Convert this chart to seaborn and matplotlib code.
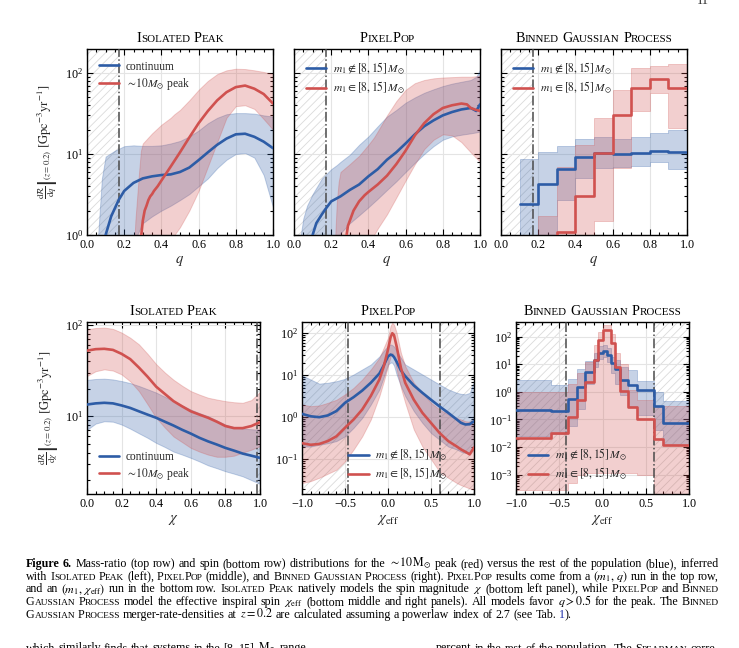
import re
import numpy as np
import matplotlib
matplotlib.use("Agg")
import matplotlib.pyplot as plt
import matplotlib.transforms as mtrans
from matplotlib.ticker import MultipleLocator, LogLocator, NullFormatter, FuncFormatter
import seaborn as sns

# ======================= DATA =======================
# --- Top-left: Isolated Peak, q ---
ipq_blue_x = [0.10, 0.13, 0.17, 0.20, 0.25, 0.30, 0.35, 0.40, 0.45, 0.50, 0.55, 0.60, 0.65, 0.70, 0.75, 0.80, 0.85, 0.90, 0.95, 1.00]
ipq_blue_med = [1.0, 1.7, 2.7, 3.5, 4.4, 5.0, 5.3, 5.5, 5.6, 6.0, 6.8, 8.4, 10.5, 13.0, 15.5, 17.5, 17.8, 16.3, 14.2, 11.8]
ipq_blue_bx = [0.05, 0.06, 0.08, 0.10, 0.15, 0.20, 0.25, 0.27, 0.30, 0.35, 0.40, 0.45, 0.50, 0.55, 0.60, 0.65, 0.70, 0.75, 0.80, 0.85, 0.90, 0.95, 1.00]
ipq_blue_hi = [0.5, 1.0, 5.0, 9.3, 11.0, 12.5, 12.8, 12.7, 12.6, 12.6, 12.8, 13.5, 14.5, 16.5, 19.5, 24.0, 28.0, 31.0, 32.0, 32.0, 31.5, 30.0, 29.0]
ipq_blue_lo = [0.3, 0.3, 0.3, 0.3, 0.3, 0.3, 0.3, 1.0, 1.4, 1.7, 2.0, 2.3, 2.7, 3.2, 4.0, 5.0, 6.7, 8.5, 10.0, 10.3, 9.0, 5.5, 2.2]
ipq_red_x = [0.29, 0.30, 0.31, 0.32, 0.33, 0.34, 0.35, 0.36, 0.38, 0.40, 0.45, 0.50, 0.55, 0.60, 0.65, 0.70, 0.75, 0.80, 0.85, 0.90, 0.95, 1.00]
ipq_red_med = [0.9, 1.5, 2.0, 2.3, 2.7, 3.0, 3.2, 3.5, 4.0, 4.7, 7.0, 10.5, 16.0, 24.0, 34.0, 46.0, 58.0, 67.0, 70.0, 64.0, 55.0, 42.0]
ipq_red_bx = [0.25, 0.26, 0.27, 0.28, 0.29, 0.30, 0.35, 0.40, 0.45, 0.47, 0.50, 0.55, 0.60, 0.65, 0.70, 0.75, 0.80, 0.85, 0.90, 0.95, 1.00]
ipq_red_hi = [0.5, 1.5, 3.0, 6.0, 11.0, 13.5, 18.0, 23.0, 28.0, 31.0, 35.0, 46.0, 62.0, 80.0, 97.0, 108.0, 113.0, 112.0, 108.0, 103.0, 97.0]
ipq_red_lo = [0.3, 0.3, 0.3, 0.3, 0.3, 0.3, 0.3, 0.3, 0.3, 1.0, 1.25, 2.0, 3.5, 7.0, 14.0, 28.0, 39.0, 40.0, 36.0, 27.0, 20.0]

# --- Top-middle: PixelPop, q ---
ppq_blue_x = [0.10, 0.12, 0.15, 0.17, 0.20, 0.25, 0.30, 0.35, 0.40, 0.45, 0.50, 0.55, 0.60, 0.65, 0.70, 0.75, 0.80, 0.85, 0.90, 0.95, 0.98, 1.00]
ppq_blue_med = [1.0, 1.4, 1.8, 2.1, 2.6, 3.0, 3.6, 4.2, 5.3, 6.5, 8.5, 10.5, 13.5, 17.5, 22.0, 26.0, 30.0, 33.0, 35.5, 37.0, 34.0, 41.0]
ppq_red_x = [0.28, 0.29, 0.30, 0.32, 0.35, 0.38, 0.40, 0.45, 0.50, 0.55, 0.60, 0.65, 0.70, 0.75, 0.80, 0.85, 0.90, 0.93, 0.95, 0.98, 1.00]
ppq_red_med = [0.9, 1.3, 1.5, 2.0, 2.6, 3.1, 3.4, 4.2, 5.4, 7.5, 11.0, 17.0, 24.0, 31.0, 37.0, 40.0, 42.0, 41.0, 37.0, 35.0, 34.0]
ppq_blue_bx = [0.03, 0.05, 0.07, 0.10, 0.15, 0.20, 0.23, 0.25, 0.30, 0.35, 0.40, 0.45, 0.50, 0.55, 0.60, 0.65, 0.70, 0.75, 0.80, 0.85, 0.90, 0.95, 0.98, 1.00]
ppq_blue_hi = [0.8, 1.6, 2.3, 3.2, 5.0, 6.5, 7.3, 8.0, 9.8, 13.0, 16.5, 22.0, 29.0, 35.0, 43.0, 50.0, 57.0, 63.0, 69.0, 74.0, 78.0, 82.0, 90.0, 110.0]
ppq_blue_lo = [0.3, 0.3, 0.3, 0.3, 0.3, 0.3, 0.9, 1.05, 1.4, 1.75, 2.2, 2.8, 3.6, 4.6, 6.0, 7.8, 10.0, 12.5, 15.0, 16.5, 17.3, 18.0, 18.5, 19.0]
ppq_red_bx = [0.22, 0.23, 0.24, 0.25, 0.30, 0.35, 0.40, 0.43, 0.45, 0.50, 0.55, 0.60, 0.65, 0.70, 0.75, 0.80, 0.85, 0.90, 0.95, 1.00]
ppq_red_hi = [0.8, 2.5, 4.5, 6.0, 7.5, 9.5, 13.0, 16.0, 19.0, 30.0, 45.0, 62.0, 75.0, 82.0, 86.0, 88.0, 89.0, 90.0, 90.0, 92.0]
ppq_red_lo = [0.3, 0.3, 0.3, 0.3, 0.3, 0.3, 0.3, 1.0, 1.2, 1.8, 2.9, 4.7, 7.5, 11.5, 15.0, 17.5, 17.0, 14.0, 10.5, 8.0]

# --- Top-right: Binned Gaussian Process, q (bins) ---
bgq_blue_edges = [0.1, 0.2, 0.3, 0.4, 0.5, 0.6, 0.7, 0.8, 0.9, 1.0]
bgq_blue_med = [2.44, 4.3, 6.6, 9.3, 10.2, 10.1, 10.2, 10.8, 10.6]
bgq_blue_hi = [8.6, 10.7, 12.4, 15.3, 16.0, 15.5, 16.2, 18.1, 19.9]
bgq_blue_lo = [0.3, 0.9, 2.7, 5.0, 6.7, 7.0, 7.2, 7.9, 6.5]
bgq_red_edges = [0.2, 0.3, 0.4, 0.5, 0.6, 0.7, 0.8, 0.9, 1.0]
bgq_red_med = [0.6, 1.1, 3.07, 10.2, 30.5, 65.0, 85.0, 66.0]
bgq_red_hi = [1.7, 7.0, 13.0, 27.7, 62.0, 115.0, 122.0, 130.0]
bgq_red_lo = [0.3, 0.3, 0.3, 1.5, 6.7, 34.0, 57.0, 21.0]

# --- Bottom-left: Isolated Peak, chi ---
ipc_x = [0.0, 0.05, 0.1, 0.15, 0.2, 0.25, 0.3, 0.35, 0.4, 0.45, 0.5, 0.55, 0.6, 0.65, 0.7, 0.75, 0.8, 0.85, 0.9, 0.95, 1.0]
ipc_red_med = [52, 54, 54.5, 53, 48, 42, 34, 27, 21, 17.5, 14.6, 12.8, 11.3, 10.4, 9.6, 8.7, 7.8, 7.4, 7.4, 7.8, 8.6]
ipc_red_hi = [89, 92, 93, 90, 82, 72, 61, 48, 37, 30, 25, 21.5, 18.8, 17.2, 15.9, 15.2, 14.6, 14.2, 14.0, 15.0, 18.4]
ipc_red_lo = [27.5, 31, 32.5, 31.5, 28.6, 24, 18.8, 13.5, 9.6, 7.5, 6.0, 5.2, 4.5, 4.1, 3.8, 3.6, 3.6, 3.7, 4.0, 4.3, 4.7]
ipc_blue_med = [13.4, 13.8, 14.0, 13.8, 13.1, 12.3, 11.3, 10.4, 9.6, 8.7, 7.9, 7.1, 6.45, 5.8, 5.3, 4.9, 4.5, 4.2, 3.9, 3.7, 3.5]
ipc_blue_hi = [24.9, 25.5, 25.7, 25.2, 24.2, 23.0, 21.4, 19.7, 18.1, 16.3, 14.6, 13.1, 11.8, 10.8, 10.0, 9.0, 8.1, 7.6, 7.3, 7.2, 7.1]
ipc_blue_lo = [7.1, 8.3, 8.8, 8.7, 8.1, 7.3, 6.5, 5.8, 5.1, 4.6, 4.1, 3.8, 3.5, 3.2, 2.9, 2.7, 2.5, 2.35, 2.2, 2.0, 1.82]

# --- Bottom-middle: PixelPop, chi_eff ---
ppc_x = [-1.0, -0.9, -0.8, -0.7, -0.6, -0.5, -0.4, -0.3, -0.2, -0.1, -0.05, 0.0, 0.03, 0.05, 0.07, 0.1, 0.15, 0.2, 0.3, 0.4, 0.5, 0.6, 0.7, 0.8, 0.85, 0.9, 0.95, 1.0]
ppc_blue_med = [1.2, 1.05, 1.0, 1.1, 1.4, 2.2, 3.0, 4.3, 6.6, 11, 17, 28, 31, 30, 27, 21, 13, 9.5, 5.7, 3.8, 2.6, 1.8, 1.27, 0.88, 0.73, 0.67, 0.68, 0.8]
ppc_blue_hi = [9.9, 7.9, 6.3, 6.6, 7.2, 8.2, 10.4, 13.7, 18, 28, 38, 50, 54, 52, 48, 38, 26, 18, 13.7, 10.4, 7.9, 6.0, 4.6, 3.8, 3.6, 3.5, 3.8, 7.0]
ppc_blue_lo = [0.2, 0.2, 0.22, 0.24, 0.27, 0.35, 0.56, 0.96, 2.0, 4.6, 9, 18, 20, 19.8, 17, 10.4, 5.5, 3.2, 1.4, 0.73, 0.42, 0.29, 0.2, 0.17, 0.15, 0.14, 0.15, 0.17]
ppc_red_med = [0.24, 0.22, 0.23, 0.27, 0.35, 0.56, 0.88, 1.52, 3.2, 7.9, 16, 41, 80, 100, 90, 49, 15, 6.6, 2.6, 1.27, 0.73, 0.42, 0.27, 0.2, 0.17, 0.15, 0.13, 0.19]
ppc_red_hi = [2.0, 1.83, 1.9, 2.2, 2.6, 3.5, 5.0, 7.9, 13.7, 26, 45, 78, 150, 178, 160, 103, 34, 16.5, 6.6, 3.8, 2.2, 1.52, 1.16, 0.96, 0.88, 0.8, 0.78, 0.88]
ppc_red_lo = [0.027, 0.03, 0.036, 0.045, 0.056, 0.089, 0.17, 0.35, 0.88, 3.2, 7, 16.5, 28, 34, 28, 13.7, 5, 2.2, 0.51, 0.2, 0.1, 0.05, 0.036, 0.027, 0.024, 0.022, 0.02, 0.019]

# --- Bottom-right: Binned Gaussian Process, chi_eff (bins) ---
bgc_edges = [-1.0, -0.6, -0.4, -0.3, -0.2, -0.1, -0.05, 0.0, 0.05, 0.1, 0.15, 0.2, 0.3, 0.4, 0.6, 0.7, 1.0]
bgc_blue_med = [0.22, 0.2, 0.55, 1.5, 5.3, 14, 26, 30, 22, 11, 6.5, 2.8, 1.8, 1.2, 0.3, 0.076]
bgc_blue_hi = [2.8, 1.8, 3.0, 7.0, 13, 25, 45, 50, 40, 18, 14, 8, 6, 2.5, 1.0, 0.45]
bgc_blue_lo = [0.025, 0.03, 0.06, 0.25, 2.0, 8, 15, 18, 12, 5, 2, 0.8, 0.3, 0.15, 0.04, 0.012]
bgc_red_med = [0.022, 0.033, 0.12, 0.5, 2.3, 14, 73, 175, 170, 59, 8, 1.1, 0.29, 0.1, 0.02, 0.012]
bgc_red_hi = [1.0, 1.0, 2.0, 5.0, 12, 50, 150, 270, 260, 130, 25, 10, 1.2, 0.5, 0.3, 0.3]
bgc_red_lo = [2.8e-4, 2.8e-4, 5e-4, 1e-3, 1.2e-3, 1.2e-3, 1.2e-3, 1.2e-3, 1.2e-3, 1.2e-3, 1.2e-3, 1.2e-3, 1.2e-3, 1e-3, 2e-4, 1.5e-4]

# --- hatched / excluded-region boundaries ---
q_cut = 0.17
chi_cut = 0.98
pp_chieff_cuts = [-0.47, 0.6]
bgp_chieff_cuts = [-0.42, 0.6]

# --- text ---
titles = ["«Isolated» «Peak»", "«PixelPop»", "«Binned» «Gaussian» «Process»"]
legend_ip = ["continuum", r"$\sim\!10M_{\odot}$ peak"]
legend_m1 = [r"$m_1\notin[8,15]\,M_{\odot}$", r"$m_1\in[8,15]\,M_{\odot}$"]
caption_lines = [
    "⟪Figure⟫ ⟪6.⟫ Mass-ratio (top row) and spin (bottom row) distributions for the $\\sim\\!10\\,\\mathrm{M}_{\\odot}$ peak (red) versus the rest of the population (blue), inferred",
    "with «Isolated» «Peak» (left), «PixelPop» (middle), and «Binned» «Gaussian» «Process» (right). «PixelPop» results come from a $(m_1,\\,q)$ run in the top row,",
    "and an $(m_1,\\,\\chi_{\\mathrm{eff}})$ run in the bottom row. «Isolated» «Peak» natively models the spin magnitude $\\chi$ (bottom left panel), while «PixelPop» and «Binned»",
    "«Gaussian» «Process» model the effective inspiral spin $\\chi_{\\mathrm{eff}}$ (bottom middle and right panels). All models favor $q>0.5$ for the peak. The «Binned»",
    "«Gaussian» «Process» merger-rate-densities at $z=0.2$ are calculated assuming a powerlaw index of 2.7 (see Tab. ⟦1⟧).",
]
next_par_left = "which similarly finds that systems in the [8, 15] $\\mathrm{M}_{\\odot}$ range"
next_par_right = "percent in the rest of the population. The «Spearman» corre-"
page_number = "11"

# ======================= STYLE =======================
sns.set_theme(style="ticks")
plt.rcParams["font.family"] = ["Liberation Serif", "DejaVu Serif"]
plt.rcParams["mathtext.fontset"] = "stix"
plt.rcParams["axes.unicode_minus"] = True
plt.rcParams["hatch.linewidth"] = 0.6

BLUE = "#2d5ca6"
RED = "#d0514f"
FALPHA = 0.27
W, H = 739, 648

fig = plt.figure(figsize=(W / 100, H / 100), dpi=100)
RENDERER = fig.canvas.get_renderer()
ID = mtrans.IdentityTransform()


def rect(l, t, w, h):
    return [l / W, 1 - (t + h) / H, w / W, h / H]


axs = [
    fig.add_axes(rect(87, 49, 186, 186)),
    fig.add_axes(rect(294, 49, 186, 186)),
    fig.add_axes(rect(501, 49, 186, 186)),
    fig.add_axes(rect(87, 322, 173, 172)),
    fig.add_axes(rect(302, 322, 172, 172)),
    fig.add_axes(rect(516, 322, 173, 172)),
]


def fmt_x(v, pos):
    return f"{v:.1f}".replace("-", "\u2212")


def style_ax(ax, xlim, ylim, xmaj, xmin, ylabels=True):
    ax.set_yscale("log")
    ax.set_xlim(*xlim)
    ax.set_ylim(*ylim)
    ax.xaxis.set_major_locator(MultipleLocator(xmaj))
    ax.xaxis.set_minor_locator(MultipleLocator(xmin))
    ax.xaxis.set_major_formatter(FuncFormatter(fmt_x))
    ax.yaxis.set_major_locator(LogLocator(base=10, numticks=20))
    ax.yaxis.set_minor_locator(LogLocator(base=10, subs=np.arange(2, 10), numticks=20))
    ax.yaxis.set_minor_formatter(NullFormatter())
    ax.tick_params(which="both", direction="in", top=True, right=True,
                   labelsize=8.7, width=0.8, colors="black", pad=3)
    ax.tick_params(which="major", length=4)
    ax.tick_params(which="minor", length=2)
    if not ylabels:
        ax.tick_params(axis="y", labelleft=False)
    ax.grid(True, which="major", color="#e4e4e4", lw=0.8)
    ax.set_axisbelow(True)
    for s in ax.spines.values():
        s.set_linewidth(1.0)
        s.set_color("black")


def hatch_region(ax, x0, x1):
    ax.axvspan(x0, x1, facecolor="none", edgecolor="#dadada", hatch="////", lw=0, zorder=0.5)


def vline(ax, x):
    ax.axvline(x, color="#4a4a4a", lw=1.1, ls="-.", zorder=3)


def band(ax, x, lo, hi, color, step=None):
    ax.fill_between(x, lo, hi, facecolor=color, edgecolor=color, alpha=FALPHA, lw=0.7,
                    step=step, zorder=1)


def med(ax, x, y, color, label, steps=False):
    kw = dict(drawstyle="steps-post") if steps else {}
    sns.lineplot(x=x, y=y, ax=ax, color=color, lw=1.9, label=label,
                 estimator=None, sort=False, zorder=4, **kw)


def ext(v):
    return list(v) + [v[-1]]


# ---- Panel 1
ax = axs[0]
style_ax(ax, (0, 1), (1, 198), 0.2, 0.05)
hatch_region(ax, 0, q_cut)
band(ax, ipq_blue_bx, ipq_blue_lo, ipq_blue_hi, BLUE)
band(ax, ipq_red_bx, ipq_red_lo, ipq_red_hi, RED)
med(ax, ipq_blue_x, ipq_blue_med, BLUE, legend_ip[0])
med(ax, ipq_red_x, ipq_red_med, RED, legend_ip[1])
vline(ax, q_cut)

# ---- Panel 2
ax = axs[1]
style_ax(ax, (0, 1), (1, 198), 0.2, 0.05, ylabels=False)
hatch_region(ax, 0, q_cut)
band(ax, ppq_blue_bx, ppq_blue_lo, ppq_blue_hi, BLUE)
band(ax, ppq_red_bx, ppq_red_lo, ppq_red_hi, RED)
med(ax, ppq_blue_x, ppq_blue_med, BLUE, legend_m1[0])
med(ax, ppq_red_x, ppq_red_med, RED, legend_m1[1])
vline(ax, q_cut)

# ---- Panel 3
ax = axs[2]
style_ax(ax, (0, 1), (1, 198), 0.2, 0.05, ylabels=False)
hatch_region(ax, 0, q_cut)
band(ax, bgq_blue_edges, ext(bgq_blue_lo), ext(bgq_blue_hi), BLUE, step="post")
band(ax, bgq_red_edges, ext(bgq_red_lo), ext(bgq_red_hi), RED, step="post")
med(ax, bgq_blue_edges, ext(bgq_blue_med), BLUE, legend_m1[0], steps=True)
med(ax, bgq_red_edges, ext(bgq_red_med), RED, legend_m1[1], steps=True)
vline(ax, q_cut)

# ---- Panel 4
ax = axs[3]
style_ax(ax, (0, 1), (1.41, 107), 0.2, 0.05)
hatch_region(ax, chi_cut, 1.0)
band(ax, ipc_x, ipc_blue_lo, ipc_blue_hi, BLUE)
band(ax, ipc_x, ipc_red_lo, ipc_red_hi, RED)
med(ax, ipc_x, ipc_blue_med, BLUE, legend_ip[0])
med(ax, ipc_x, ipc_red_med, RED, legend_ip[1])
vline(ax, chi_cut)

# ---- Panel 5
ax = axs[4]
style_ax(ax, (-1, 1), (0.0148, 185), 0.5, 0.1)
hatch_region(ax, -1, pp_chieff_cuts[0])
hatch_region(ax, pp_chieff_cuts[1], 1)
band(ax, ppc_x, ppc_blue_lo, ppc_blue_hi, BLUE)
band(ax, ppc_x, ppc_red_lo, ppc_red_hi, RED)
med(ax, ppc_x, ppc_blue_med, BLUE, legend_m1[0])
med(ax, ppc_x, ppc_red_med, RED, legend_m1[1])
for c in pp_chieff_cuts:
    vline(ax, c)

# ---- Panel 6
ax = axs[5]
style_ax(ax, (-1, 1), (2.0e-4, 340), 0.5, 0.1)
hatch_region(ax, -1, bgp_chieff_cuts[0])
hatch_region(ax, bgp_chieff_cuts[1], 1)
band(ax, bgc_edges, ext(bgc_blue_lo), ext(bgc_blue_hi), BLUE, step="post")
band(ax, bgc_edges, ext(bgc_red_lo), ext(bgc_red_hi), RED, step="post")
med(ax, bgc_edges, ext(bgc_blue_med), BLUE, legend_m1[0], steps=True)
med(ax, bgc_edges, ext(bgc_red_med), RED, legend_m1[1], steps=True)
for c in bgp_chieff_cuts:
    vline(ax, c)

# legends
leg_kw = dict(frameon=False, fontsize=8.3, handlelength=1.8, handletextpad=0.55,
              labelspacing=0.3, borderaxespad=0.6)
for a in axs[:3]:
    a.legend(loc="upper left", **leg_kw)
axs[3].legend(loc="lower left", **leg_kw)
axs[4].legend(loc="lower left", bbox_to_anchor=(0.2, 0.0), **leg_kw)
axs[5].legend(loc="lower left", **leg_kw)

# axis labels
for a in axs[:3]:
    a.set_xlabel("$q$", fontsize=10.5, labelpad=2)
axs[3].set_xlabel(r"$\chi$", fontsize=10.5, labelpad=2)
axs[4].set_xlabel(r"$\chi_{\mathrm{eff}}$", fontsize=10.5, labelpad=2)
axs[5].set_xlabel(r"$\chi_{\mathrm{eff}}$", fontsize=10.5, labelpad=2)
axs[0].set_ylabel(r"$\left.\frac{\mathrm{d}\mathcal{R}}{\mathrm{d}q}\right|_{(z=0.2)}\ [\mathrm{Gpc}^{-3}\mathrm{yr}^{-1}]$",
                  fontsize=9, labelpad=3)
axs[3].set_ylabel(r"$\left.\frac{\mathrm{d}\mathcal{R}}{\mathrm{d}\chi}\right|_{(z=0.2)}\ [\mathrm{Gpc}^{-3}\mathrm{yr}^{-1}]$",
                  fontsize=9, labelpad=3)

# ======================= RICH TEXT (small caps, justified caption) =======================
SEG = re.compile(r"(«[^»]*»|⟪[^⟫]*⟫|⟦[^⟧]*⟧)")


def measure(s, size, weight="normal"):
    t = fig.text(0, 0, s, fontsize=size, fontweight=weight, transform=ID)
    w = t.get_window_extent(renderer=RENDERER).width
    t.remove()
    return w


def sc_runs(text, big, ratio):
    runs = []
    for ch in text:
        small = ch.islower()
        size = big * ratio if small else big
        c = ch.upper()
        if runs and runs[-1][1] == size:
            runs[-1][0] += c
        else:
            runs.append([c, size])
    return [(r[0], r[1], "normal", "black") for r in runs]


def token_runs(tok, base, ratio=0.78):
    runs = []
    for seg in SEG.split(tok):
        if not seg:
            continue
        if seg[0] == "«":
            runs += sc_runs(seg[1:-1], base, ratio)
        elif seg[0] == "⟪":
            runs.append((seg[1:-1], base, "bold", "black"))
        elif seg[0] == "⟦":
            runs.append((seg[1:-1], base, "normal", "#1f2fa8"))
        else:
            runs.append((seg, base, "normal", "black"))
    return runs


RUN_GAP = -0.2


def word_width(runs):
    ws = [measure(r[0], r[1], r[2]) for r in runs]
    return sum(ws) + RUN_GAP * (len(runs) - 1), ws


def draw_word(x, ybase, runs, ws):
    for (s, size, weight, color), w in zip(runs, ws):
        fig.text(x, H - ybase, s, fontsize=size, fontweight=weight, color=color,
                 transform=ID, ha="left", va="baseline")
        x += w + RUN_GAP


def line_natural(line, base):
    words = line.split(" ")
    total = sum(word_width(token_runs(w, base))[0] for w in words)
    space = measure("x x", base) - measure("xx", base)
    return total + space * (len(words) - 1)


def draw_line(line, x0, ybase, base, x1=None, align="left"):
    words = line.split(" ")
    wr = [token_runs(w, base) for w in words]
    meas = [word_width(r) for r in wr]
    total = sum(m[0] for m in meas)
    space = measure("x x", base) - measure("xx", base)
    if align == "justify" and len(words) > 1:
        gap = (x1 - x0 - total) / (len(words) - 1)
    else:
        gap = space
    width = total + gap * (len(words) - 1)
    if align == "center":
        x = x0 - width / 2
    elif align == "right":
        x = x1 - width
    else:
        x = x0
    for r, (w, ws) in zip(wr, meas):
        draw_word(x, ybase, r, ws)
        x += w + gap


# titles
for a, t, yb in zip(axs, titles * 2, [42, 42, 42, 315, 315, 315]):
    bb = a.get_position()
    cx = (bb.x0 + bb.x1) / 2 * W
    draw_line(t, cx, yb, 10.2, align="center")

# caption: font size fitted so the first line has natural word spacing
X0, X1 = 26, 719
cap = 9.0
cap = cap * (X1 - X0) / line_natural(caption_lines[0], cap) * 0.992
baselines = [567.0, 579.7, 592.4, 605.1, 617.8]
for i, (ln, yb) in enumerate(zip(caption_lines, baselines)):
    draw_line(ln, X0, yb, cap, x1=X1, align="justify" if i < 4 else "left")
draw_line(next_par_left, X0, 651.5, cap)
draw_line(next_par_right, 420, 651.5, cap, x1=X1, align="right")

# page number
fig.text(703, H - 4.0, page_number, fontsize=9, transform=ID, ha="center", va="baseline")

fig.savefig("out.png", dpi=100)
